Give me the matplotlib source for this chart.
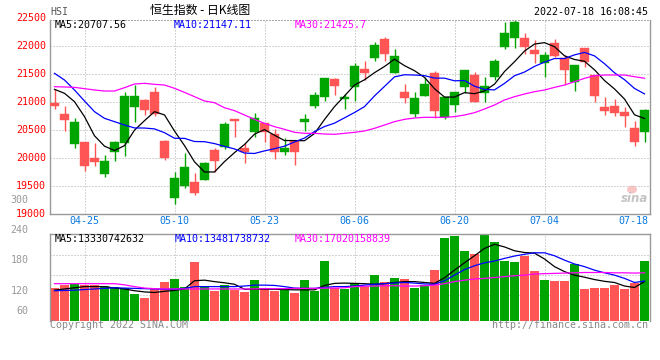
import numpy as np
import matplotlib
matplotlib.use("Agg")
import matplotlib.pyplot as plt
from matplotlib.patches import Ellipse

# ---- data ----
dates = ["04-20", "04-21", "04-22", "04-25", "04-26", "04-27", "04-28", "04-29",
         "05-03", "05-04", "05-05", "05-06", "05-10", "05-11", "05-12", "05-13",
         "05-16", "05-17", "05-18", "05-19", "05-20", "05-23", "05-24", "05-25",
         "05-26", "05-27", "05-30", "05-31", "06-01", "06-02", "06-06", "06-07",
         "06-08", "06-09", "06-10", "06-13", "06-14", "06-15", "06-16", "06-17",
         "06-20", "06-21", "06-22", "06-23", "06-24", "06-27", "06-28", "06-29",
         "06-30", "07-04", "07-05", "07-06", "07-07", "07-08", "07-11", "07-12",
         "07-13", "07-14", "07-15", "07-18"]
tick_dates = ["04-25", "05-10", "05-23", "06-06", "06-20", "07-04", "07-18"]

opens = [20990, 20788, 20254, 20289, 20010, 19719, 20117, 20277, 20919, 21038,
         21180, 20313, 19297, 19511, 19577, 19612, 20147, 20194, 20699, 20176,
         20462, 20622, 20426, 20117, 20307, 20640, 20931, 21097, 21412, 21061,
         21275, 21590, 21792, 22125, 21525, 21180, 20782, 21103, 21513, 20729,
         20949, 21263, 21483, 21156, 21453, 21977, 22143, 22148, 21929, 21691,
         22048, 21780, 21352, 21959, 21483, 20907, 20931, 20818, 20533, 20474]
highs = [21228, 20931, 20711, 20289, 20265, 20058, 20307, 21180, 21305, 21055,
         21275, 20325, 19761, 20087, 19731, 19933, 20182, 20640, 20705, 20265,
         20800, 20634, 20515, 20360, 20307, 20788, 21186, 21430, 21436, 21145,
         21703, 21739, 22065, 22154, 21941, 21323, 21174, 21442, 21549, 21100,
         21186, 21580, 21543, 21453, 21768, 22428, 22469, 22232, 22107, 21887,
         22130, 21840, 21661, 21959, 21483, 21097, 21050, 20907, 20669, 20877]
lows = [20883, 20491, 20188, 19778, 19868, 19671, 19957, 20040, 20652, 20770,
        20753, 19969, 19184, 19464, 19345, 19612, 19761, 20170, 20384, 19921,
        20384, 20283, 19987, 20058, 19880, 20491, 20889, 21026, 21133, 20871,
        21026, 21394, 21739, 21739, 21513, 20978, 20729, 21103, 20717, 20693,
        20830, 21168, 21008, 21008, 21394, 21941, 21964, 21857, 21691, 21453,
        21798, 21311, 21204, 21620, 21008, 20770, 20753, 20563, 20218, 20295]
closes = [20931, 20681, 20646, 19868, 19939, 19951, 20289, 21109, 21109, 20860,
          20782, 20004, 19654, 19850, 19380, 19915, 19957, 20604, 20664, 20117,
          20717, 20462, 20117, 20182, 20117, 20699, 21127, 21430, 21293, 21097,
          21649, 21525, 22018, 21857, 21822, 21067, 21073, 21323, 20848, 21085,
          21180, 21572, 21008, 21287, 21733, 22232, 22428, 21988, 21857, 21840,
          21822, 21572, 21661, 21721, 21115, 20848, 20800, 20759, 20295, 20860]

ma5 = [21228, 21157, 21008, 20741, 20400, 20215, 20138, 20225, 20500, 20670,
       20830, 20772, 20485, 20225, 19936, 19755, 19755, 19940, 20100, 20245,
       20430, 20510, 20410, 20315, 20315, 20312, 20440, 20690, 20920, 21110,
       21305, 21398, 21525, 21635, 21765, 21650, 21560, 21440, 21240, 21090,
       21090, 21170, 21150, 21200, 21320, 21545, 21720, 21910, 22035, 22060,
       21988, 21825, 21760, 21728, 21576, 21385, 21235, 21055, 20775, 20708]
ma10 = [21513, 21394, 21216, 21020, 20830, 20711, 20652, 20592, 20540, 20538,
        20523, 20455, 20356, 20354, 20298, 20295, 20261, 20211, 20166, 20092,
        20085, 20131, 20170, 20215, 20290, 20360, 20475, 20565, 20625, 20720,
        20815, 20920, 21110, 21280, 21450, 21488, 21483, 21472, 21428, 21427,
        21380, 21385, 21284, 21227, 21218, 21334, 21470, 21536, 21637, 21713,
        21777, 21777, 21842, 21886, 21824, 21685, 21523, 21400, 21244, 21147]
ma30 = [21275, 21270, 21263, 21240, 21216, 21198, 21198, 21257, 21323, 21335,
        21317, 21305, 21246, 21174, 21097, 21020, 20990, 20900, 20848, 20770,
        20693, 20622, 20563, 20515, 20462, 20444, 20444, 20432, 20426, 20444,
        20462, 20485, 20533, 20592, 20652, 20693, 20717, 20729, 20729, 20729,
        20741, 20770, 20812, 20877, 20949, 21038, 21097, 21145, 21186, 21216,
        21263, 21305, 21364, 21424, 21471, 21483, 21483, 21483, 21453, 21426]

# volume, 1e8 units
volume = [112, 121, 126, 123, 123, 118, 116, 110, 91, 78,
          107, 131, 143, 114, 201, 118, 101, 121, 104, 97,
          139, 110, 101, 107, 94, 138, 101, 203, 112, 108,
          127, 116, 155, 131, 145, 142, 112, 121, 172, 281,
          288, 237, 227, 291, 267, 203, 199, 220, 169, 138,
          135, 135, 193, 108, 111, 111, 121, 108, 127, 203]
vol_ma5 = [104, 108, 112, 116, 116, 116, 111, 108, 102, 98,
           96, 100, 103, 108, 136, 138, 133, 129, 124, 107,
           107, 107, 107, 106, 105, 105, 105, 120, 127, 128,
           127, 126, 124, 126, 130, 133, 133, 130, 127, 146,
           172, 197, 221, 246, 260, 251, 238, 232, 230, 210,
           184, 167, 155, 148, 140, 134, 130, 118, 113, 133]
vol_ma10 = [102, 103, 104, 106, 108, 110, 112, 111, 110, 109,
            108, 107, 107, 110, 116, 116, 116, 116, 116, 118,
            121, 121, 120, 116, 111, 110, 110, 113, 116, 116,
            118, 121, 124, 126, 128, 130, 128, 125, 124, 136,
            155, 174, 187, 197, 203, 212, 220, 226, 231, 231,
            221, 206, 193, 184, 172, 163, 155, 144, 130, 135]
vol_ma30 = [126, 126, 126, 126, 126, 126, 126, 122, 116, 111,
            109, 108, 108, 108, 108, 108, 108, 108, 108, 108,
            108, 109, 109, 109, 110, 110, 110, 111, 111, 112,
            116, 117, 118, 119, 119, 118, 118, 119, 121, 126,
            133, 138, 142, 144, 147, 150, 153, 155, 159, 160,
            161, 162, 163, 164, 164, 164, 163, 163, 162, 163]

RED = "#ff5555"
GREEN = "#00a500"
GRID = "#aaaaaa"
BORDER = "#999999"
MONO = "DejaVu Sans Mono"
FS = 7.2

W, H = 660, 360
fig = plt.figure(figsize=(W / 100, H / 100), dpi=100)


def px_axes(l, t, r, b):
    return fig.add_axes([l / W, 1 - b / H, (r - l) / W, (b - t) / H])


def ftext(x, y, s, **kw):
    kw.setdefault("family", MONO)
    kw.setdefault("fontsize", FS)
    kw.setdefault("va", "center")
    fig.text(x / W, 1 - y / H, s, **kw)


ax = px_axes(49.5, 19.7, 649.5, 213.5)
axv = px_axes(49.5, 234.3, 649.5, 320.7)

x = np.arange(len(dates))
o = np.array(opens)
c = np.array(closes)
up = c >= o
cols = np.where(up, GREEN, RED)
tick_idx = [dates.index(d) for d in tick_dates]

# ---- price panel ----
for gv in [19500, 20000, 20500, 21000, 21500, 22000]:
    ax.axhline(gv, color=GRID, lw=0.72, ls=(0, (1, 2)), zorder=0)
for ti in tick_idx[:-1]:
    ax.axvline(ti, color=GRID, lw=0.72, ls=(0, (1, 2)), zorder=0)
    axv.axvline(ti, color=GRID, lw=0.72, ls=(0, (1, 2)), zorder=0)

ax.vlines(x, lows, highs, colors=cols, lw=1.0, zorder=2)
body_h = np.maximum(np.abs(c - o), 8)
ax.bar(x, body_h, bottom=np.minimum(o, c), width=0.9, color=cols,
       edgecolor=cols, linewidth=0.3, zorder=3)

ax.plot(x, ma5, color="black", lw=0.9, zorder=4)
ax.plot(x, ma10, color="#0000ff", lw=0.9, zorder=4)
ax.plot(x, ma30, color="#ff00ff", lw=0.9, zorder=4)

ax.set_xlim(-0.5, len(dates) - 0.5)
ax.set_ylim(19015, 22469)
ax.set_xticks([])
ax.set_yticks([])
for side in ["left", "right", "bottom"]:
    ax.spines[side].set_color(BORDER)
    ax.spines[side].set_linewidth(1.0)
ax.spines["top"].set_color(GRID)
ax.spines["top"].set_linestyle((0, (1, 2)))
ax.spines["top"].set_linewidth(0.72)

for pv in [22500, 22000, 21500, 21000, 20500, 20000, 19500, 19000]:
    ax.text(-0.006, pv, str(pv), transform=ax.get_yaxis_transform(),
            ha="right", va="center", color="#ff0000", family=MONO, fontsize=FS)

for d, ti in zip(tick_dates, tick_idx):
    if d == tick_dates[-1]:
        ax.text(0.998, -0.040, d, transform=ax.transAxes, ha="right", va="center",
                color="#0a78e0", family=MONO, fontsize=FS)
    else:
        ax.text(ti, -0.040, d, transform=ax.get_xaxis_transform(), ha="center",
                va="center", color="#0a78e0", family=MONO, fontsize=FS)

# ---- volume panel ----
for fr in [0.758, 0.527, 0.296]:
    axv.axhline(fr * 294, color=GRID, lw=0.72, ls=(0, (1, 2)), zorder=0)
axv.bar(x, volume, width=0.9, color=cols, linewidth=0, zorder=2)
axv.plot(x, vol_ma5, color="black", lw=0.9, zorder=3)
axv.plot(x, vol_ma10, color="#0000ff", lw=0.9, zorder=3)
axv.plot(x, vol_ma30, color="#ff00ff", lw=0.9, zorder=3)
axv.set_xlim(-0.5, len(dates) - 0.5)
axv.set_ylim(0, 294)
axv.set_xticks([])
axv.set_yticks([])
for side in ["left", "right", "top"]:
    axv.spines[side].set_color(BORDER)
    axv.spines[side].set_linewidth(1.0)
axv.spines["bottom"].set_visible(False)

for lab, yy in [("300", 200), ("240", 230), ("180", 260), ("120", 290.7), ("60", 310.7)]:
    ftext(28.5, yy, lab, ha="right", color="#999999")

# ---- header / legends ----
ftext(50.5, 11.7, "HSI", color="#555555")
fig.text(200 / W, 1 - 10.5 / H, "恒生指数 - 日K线图", ha="center", va="center",
         fontsize=8.6, family=["Noto Sans CJK SC", "DejaVu Sans"], color="black")
ftext(648, 11.7, "2022-07-18 16:08:45", ha="right", color="black")

ftext(54.3, 24.5, "MA5:20707.56", color="black")
ftext(174, 24.5, "MA10:21147.11", color="#0000ff")
ftext(295, 24.5, "MA30:21425.7", color="#ff00ff")

ftext(54.3, 238.8, "MA5:13330742632", color="black")
ftext(175, 238.8, "MA10:13481738732", color="#0000ff")
ftext(295, 238.8, "MA30:17020158839", color="#ff00ff")

ftext(50, 324.5, "Copyright 2022 SINA.COM", color="#888888")
ftext(648, 324.5, "http://finance.sina.com.cn", ha="right", color="#888888")

# sina watermark
fig.patches.append(Ellipse((632 / W, 1 - 189.5 / H), 10 / W, 8 / H,
                           transform=fig.transFigure, facecolor="#f4b8b8",
                           edgecolor="none", alpha=0.8))
fig.text(635 / W, 1 - 199 / H, "sina", ha="center", va="center", fontsize=8.5,
         style="italic", weight="bold", color="#c4c4c4", family="DejaVu Sans")

fig.savefig("out.png", dpi=100)
plt.close(fig)
